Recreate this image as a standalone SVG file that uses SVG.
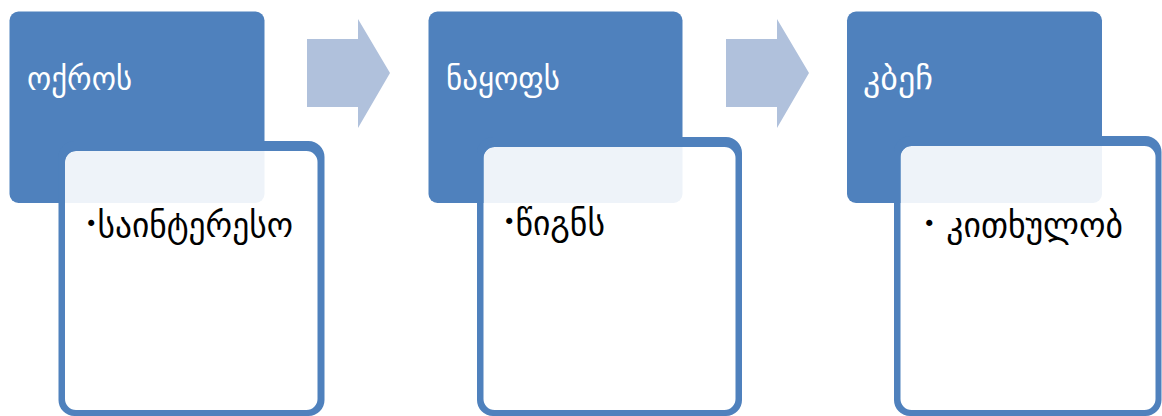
<svg xmlns="http://www.w3.org/2000/svg" width="1162" height="416" viewBox="0 0 1162 416">
<style>
.hdr{fill:#4f81bd}
.ring{fill:#4f81bd;fill-rule:evenodd}
.body{fill:#ffffff;fill-opacity:0.9}
.arr{fill:#b0c1dc}
.t{font-family:"DejaVu Sans",sans-serif;font-size:32px;fill:#ffffff}
.b{font-family:"DejaVu Sans",sans-serif;font-size:35px;fill:#000000}
.d{font-size:22px}
</style>
<rect width="1162" height="416" fill="#ffffff"/>
<g id="connectors">
<polygon class="arr" points="307,39 358,39 358,19 390,73 358,128 358,107 307,107"/>
<polygon class="arr" points="726,39 777,39 777,19 809,73 777,128 777,107 726,107"/>
</g>
<g id="node1">
<rect class="hdr" x="9.5" y="11.5" width="255" height="191.5" rx="9"/>
<text class="t" x="27" y="90" textLength="105" lengthAdjust="spacingAndGlyphs">ოქროს</text>
<rect class="body" x="65" y="151" width="252.5" height="259" rx="11"/>
<path class="ring" d="M74.5,141 H308.5 A16,16 0 0 1 324.5,157 V400 A16,16 0 0 1 308.5,416 H74.5 A16,16 0 0 1 58.5,400 V157 A16,16 0 0 1 74.5,141 Z M76,151 H306.5 A11,11 0 0 1 317.5,162 V399 A11,11 0 0 1 306.5,410 H76 A11,11 0 0 1 65,399 V162 A11,11 0 0 1 76,151 Z"/>
<text class="b" x="85" y="237" textLength="208" lengthAdjust="spacingAndGlyphs"><tspan class="d" dy="-6">•</tspan><tspan dy="6">საინტერესო</tspan></text>
</g>
<g id="node2">
<rect class="hdr" x="428.5" y="11.5" width="254" height="191.5" rx="9"/>
<text class="t" x="446" y="90" textLength="114" lengthAdjust="spacingAndGlyphs">ნაყოფს</text>
<rect class="body" x="483.5" y="147" width="252" height="263" rx="11"/>
<path class="ring" d="M493,137 H726 A16,16 0 0 1 742,153 V400 A16,16 0 0 1 726,416 H493 A16,16 0 0 1 477,400 V153 A16,16 0 0 1 493,137 Z M494.5,147 H724.5 A11,11 0 0 1 735.5,158 V399 A11,11 0 0 1 724.5,410 H494.5 A11,11 0 0 1 483.5,399 V158 A11,11 0 0 1 494.5,147 Z"/>
<text class="b" x="503" y="235" textLength="102" lengthAdjust="spacingAndGlyphs"><tspan class="d" dy="-6">•</tspan><tspan dy="6">წიგნს</tspan></text>
</g>
<g id="node3">
<rect class="hdr" x="847" y="11.5" width="255" height="191.5" rx="9"/>
<text class="t" x="863" y="90" textLength="70" lengthAdjust="spacingAndGlyphs">კბეჩ</text>
<rect class="body" x="900.5" y="146" width="255" height="264" rx="11"/>
<path class="ring" d="M910,136 H1145.5 A16,16 0 0 1 1161.5,152 V400 A16,16 0 0 1 1145.5,416 H910 A16,16 0 0 1 894,400 V152 A16,16 0 0 1 910,136 Z M911.5,146 H1144.5 A11,11 0 0 1 1155.5,157 V399 A11,11 0 0 1 1144.5,410 H911.5 A11,11 0 0 1 900.5,399 V157 A11,11 0 0 1 911.5,146 Z"/>
<text class="b" x="923" y="237" textLength="200" lengthAdjust="spacingAndGlyphs"><tspan class="d" dy="-6">•</tspan><tspan dy="6"> კითხულობ</tspan></text>
</g>
</svg>
